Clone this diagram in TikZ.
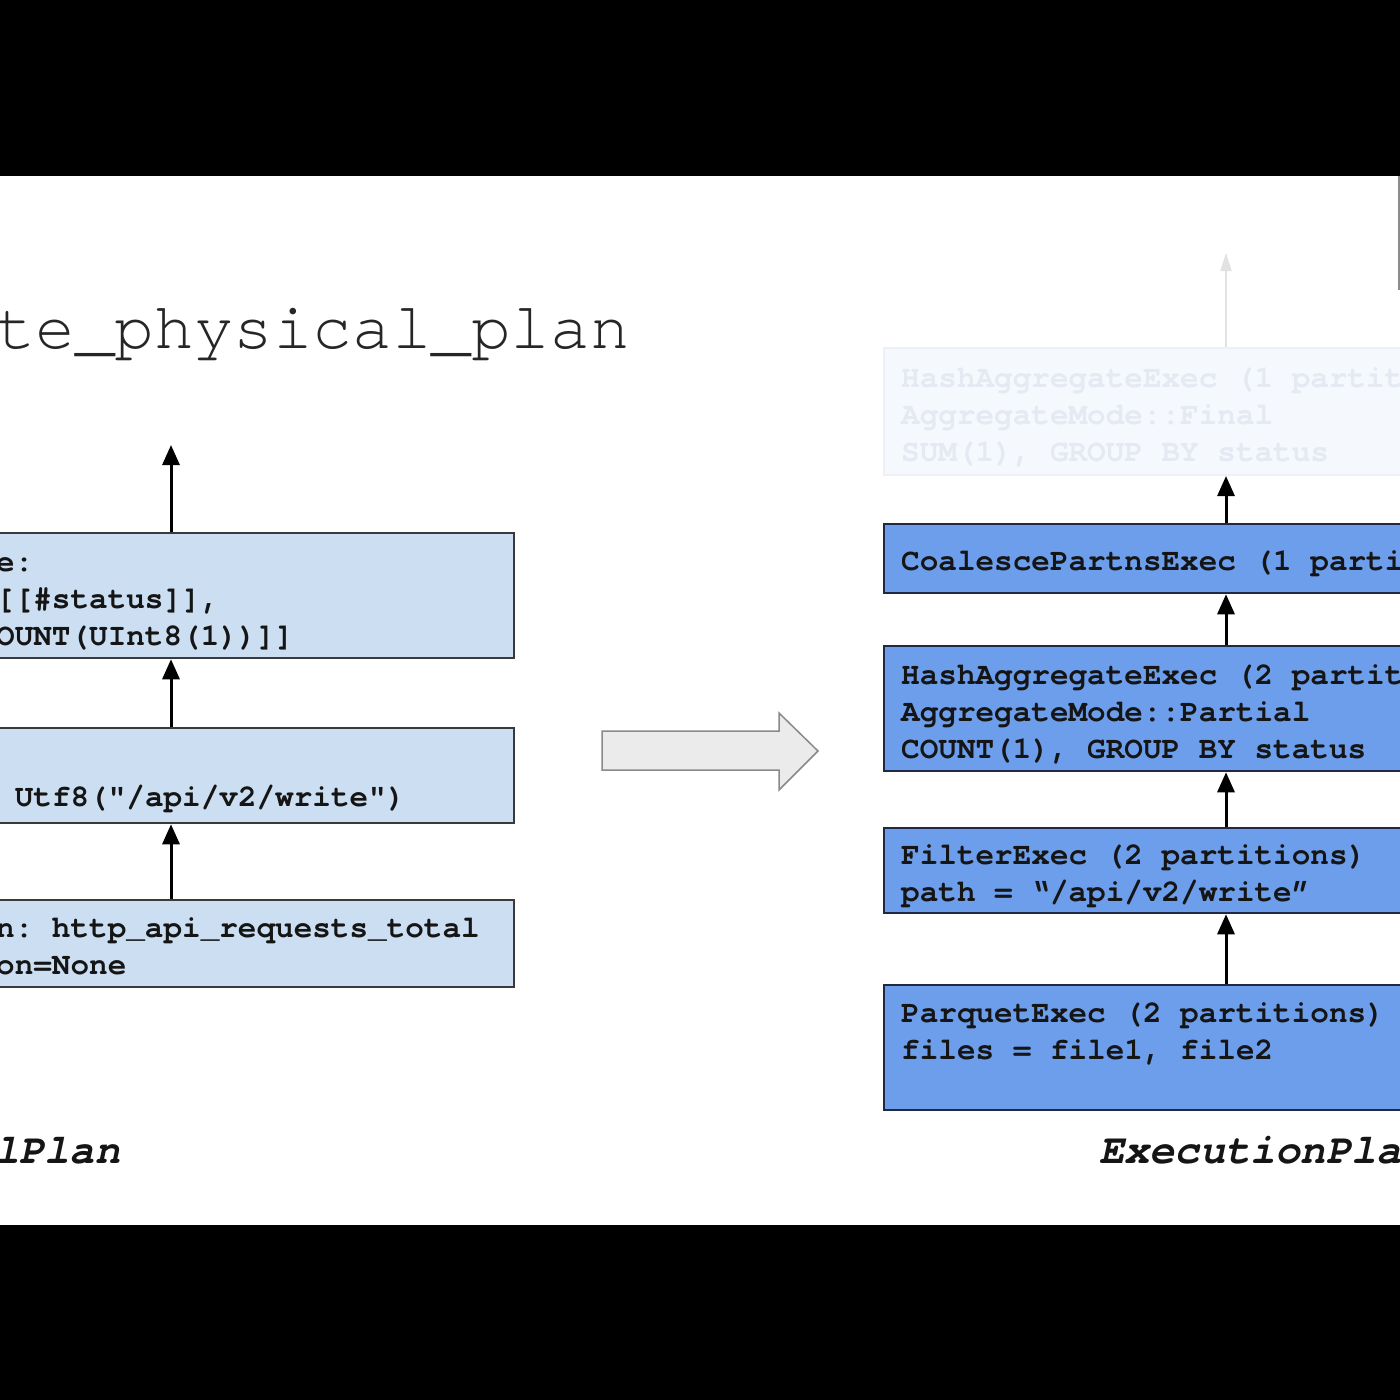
\documentclass[tikz,border=0pt]{standalone}
\usepackage{fontspec}
\setmonofont{TeX Gyre Cursor}[Ligatures=NoCommon]
\usetikzlibrary{arrows.meta}
\definecolor{lightbox}{HTML}{CCDFF2}
\definecolor{bluebox}{HTML}{6D9EEB}
\definecolor{lline}{HTML}{3A3A3A}
\definecolor{rline}{HTML}{1F2A40}
\definecolor{codeink}{HTML}{151515}
\definecolor{fadefill}{HTML}{F5F8FD}
\definecolor{fadeline}{HTML}{EDF1F7}
\definecolor{fadeink}{HTML}{E4E9F2}
\definecolor{fadearrow}{HTML}{E2E2E2}
\definecolor{bigarrowfill}{HTML}{EBEBEB}
\definecolor{bigarrowline}{HTML}{8A8A8A}
\begin{document}
\begin{tikzpicture}[x=1pt,y=-1pt,
  lbox/.style={rectangle, draw=lline, line width=2.5pt, fill=lightbox, minimum width=686pt, inner sep=0pt},
  rbox/.style={rectangle, draw=rline, line width=2.5pt, fill=bluebox, minimum width=684pt, inner sep=0pt},
  fadebox/.style={rectangle, draw=fadeline, line width=2pt, fill=fadefill, minimum width=684pt, inner sep=0pt},
  code/.style={anchor=base west, inner sep=0pt, text=codeink, font=\fontsize{31}{37}\selectfont\ttfamily\bfseries},
  fadecode/.style={code, text=fadeink},
  caption/.style={anchor=base west, inner sep=0pt, text=codeink, font=\fontsize{42}{48}\selectfont\ttfamily\bfseries\itshape},
  flow/.style={line width=3pt, draw=black, -{Triangle[width=17pt,length=20pt]}},
  fadeflow/.style={line width=1.5pt, draw=fadearrow, -{Triangle[width=11pt,length=18pt]}},
]
\useasboundingbox (0,0) rectangle (1400,1400);
\clip (0,0) rectangle (1400,1400);
\fill[white] (0,0) rectangle (1400,1400);
% black bars
\fill[black] (0,0) rectangle (1400,176);
\fill[black] (0,1225) rectangle (1400,1400);

% title
\node[anchor=base west, inner sep=0pt, text=black!85, font=\fontsize{66}{70}\selectfont\ttfamily] (title) at (-4,348) {te\_physical\_plan};

% left column (logical plan)
\node[lbox, minimum height=125pt] (lb1) at (171,595.5) {};
\node[lbox, minimum height=95pt] (lb2) at (171,775.5) {};
\node[lbox, minimum height=87pt] (lb3) at (171,943.5) {};
\coordinate (ltop) at (171,445);

\node[code] (l1a) at (-4,571) {e:};
\node[code] (l1b) at (-4,608) {[[\#status]],};
\node[code] (l1c) at (-4,645) {OUNT(UInt8(1))]]};
\node[code] (l2a) at (-4,806) {\ Utf8("/api/v2/write")};
\node[code] (l3a) at (-4,937) {n: http\_api\_requests\_total};
\node[code] (l3b) at (-4,974) {on=None};

\draw[flow] (lb1.north) -- (ltop);
\draw[flow] (lb2.north) -- (lb1.south);
\draw[flow] (lb3.north) -- (lb2.south);

\node[caption] (lcap) at (-6,1163) {lPlan};

% big hollow arrow
\draw[draw=bigarrowline, fill=bigarrowfill, line width=1.5pt, line join=miter]
  (602,731) -- (779,731) -- (779,713) -- (818,751) -- (779,790) -- (779,770) -- (602,770) -- cycle;

% right column (execution plan)
\node[fadebox, minimum height=127pt] (rfin) at (1226,411.5) {};
\node[rbox, minimum height=69pt] (rco) at (1226,558.5) {};
\node[rbox, minimum height=125pt] (rha) at (1226,708.5) {};
\node[rbox, minimum height=85pt] (rfi) at (1226,870.5) {};
\node[rbox, minimum height=125pt] (rpa) at (1226,1047.5) {};
\coordinate (rtop) at (1226,253);

\node[fadecode] (f1) at (901,387) {HashAggregateExec (1 partit};
\node[fadecode] (f2) at (901,424) {AggregateMode::Final};
\node[fadecode] (f3) at (901,461) {SUM(1), GROUP BY status};

\node[code] (c1) at (901,570) {CoalescePartnsExec (1 parti};
\node[code] (h1) at (901,684) {HashAggregateExec (2 partit};
\node[code] (h2) at (901,721) {AggregateMode::Partial};
\node[code] (h3) at (901,758) {COUNT(1), GROUP BY status};
\node[code] (fi1) at (901,864) {FilterExec (2 partitions)};
\node[code] (fi2) at (901,901) {path = “/api/v2/write”};
\node[code] (p1) at (901,1022) {ParquetExec (2 partitions)};
\node[code] (p2) at (901,1059) {files = file1, file2};

\draw[fadeflow] (rfin.north) -- (rtop);
\draw[flow] (rco.north) -- (rfin.south);
\draw[flow] (rha.north) -- (rco.south);
\draw[flow] (rfi.north) -- (rha.south);
\draw[flow] (rpa.north) -- (rfi.south);

\node[caption] (rcap) at (1099,1163) {ExecutionPla};

% partial element at right edge
\draw[line width=3pt, draw=black!45] (1399,176) -- (1399,290);
\end{tikzpicture}
\end{document}
